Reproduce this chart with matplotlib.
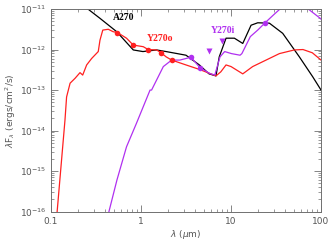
import matplotlib
matplotlib.use("Agg")
import matplotlib.pyplot as plt
import matplotlib.ticker as mticker
import numpy as np

# A270 model SED (black)
a270_lam = [0.257, 0.35, 0.537, 0.82, 1.05, 1.49, 1.9, 3.16, 4.45, 5.7, 6.8,
            7.4, 8.8, 10.9, 13.5, 16.7, 19.8, 26.7, 37.5, 57.4, 80.7, 100]
a270_flux = [-11.0, -11.23, -11.56, -12.01, -12.05, -12.01, -12.05, -12.14,
             -12.38, -12.6, -12.65, -12.18, -11.72, -11.72, -11.85, -11.4,
             -11.34, -11.35, -11.6, -12.18, -12.67, -13.0]

# Y270o model SED (red)
y270o_lam = [0.117, 0.143, 0.149, 0.163, 0.185, 0.21, 0.225, 0.249, 0.283,
             0.335, 0.35, 0.376, 0.433, 0.49, 0.546, 0.69, 0.82, 1.06, 1.2,
             1.49, 1.67, 1.9, 2.19, 3.16, 4.45, 6.8, 7.7, 8.8, 10.0, 13.5,
             17.4, 24.5, 34.5, 50.5, 63, 80, 100]
y270o_flux = [-16.0, -13.74, -13.17, -12.83, -12.71, -12.57, -12.63, -12.38,
              -12.22, -12.05, -11.77, -11.52, -11.5, -11.56, -11.58, -11.72,
              -11.89, -11.93, -12.0, -12.01, -12.08, -12.18, -12.26, -12.38,
              -12.49, -12.65, -12.55, -12.38, -12.42, -12.6, -12.42, -12.26,
              -12.1, -12.01, -12.0, -12.08, -12.26]

# Y270i model SED (purple)
y270i_lam = [0.44, 0.54, 0.69, 0.89, 1.26, 1.31, 1.77, 2.19, 2.7, 3.59, 4.53,
             5.8, 6.6, 7.55, 8.5, 10.1, 12.6, 13.2, 16.4, 19.8, 23.9, 29.5,
             35, 50, 72, 98, 100]
y270i_flux = [-16.0, -15.22, -14.4, -13.82, -13.0, -13.0, -12.42, -12.26,
              -12.26, -12.19, -12.45, -12.59, -12.63, -12.18, -12.05, -12.1,
              -12.14, -12.1, -11.68, -11.52, -11.34, -11.15, -11.0, -10.7,
              -11.0, -11.23, -11.25]

# observed photometry
obs_o_lam = [0.546, 0.82, 1.2, 1.67, 2.19]
obs_o_flux = [-11.58, -11.89, -12.0, -12.08, -12.26]
obs_i_lam = [3.59, 4.53, 23.9]
obs_i_flux = [-12.19, -12.45, -11.34]
lim_i_lam = [5.7, 7.95]
lim_i_flux = [-12.03, -11.78]

x_ticks = [0.1, 1, 10, 100]
y_ticks = [1e-16, 1e-15, 1e-14, 1e-13, 1e-12, 1e-11]

RED = "#ff2020"
PURPLE = "#b030f0"
GREY = "#707070"

fig = plt.figure(figsize=(3.32, 2.4), dpi=100)
ax = fig.add_axes([0.1536, 0.118, 0.8134, 0.8445])

ax.plot(a270_lam, 10 ** np.array(a270_flux), color="black", lw=0.9)
ax.plot(y270o_lam, 10 ** np.array(y270o_flux), color=RED, lw=0.9)
ax.plot(y270i_lam, 10 ** np.array(y270i_flux), color=PURPLE, lw=0.9)

ax.plot(obs_o_lam, 10 ** np.array(obs_o_flux), "o", color=RED, ms=4, mec="none")
ax.plot(obs_i_lam, 10 ** np.array(obs_i_flux), "o", color=PURPLE, ms=4, mec="none")
ax.plot(lim_i_lam, 10 ** np.array(lim_i_flux), "v", color=PURPLE, ms=5, mec="none")

ax.set_xscale("log")
ax.set_yscale("log")
ax.set_xlim(0.1, 100)
ax.set_ylim(1e-16, 1e-11)

ax.xaxis.set_major_locator(mticker.FixedLocator(x_ticks))
ax.xaxis.set_major_formatter(mticker.FixedFormatter(["0.1", "1", "10", "100"]))
ax.yaxis.set_major_locator(mticker.FixedLocator(y_ticks))
ax.yaxis.set_major_formatter(mticker.FuncFormatter(
    lambda v, p: r"10$^{%d}$" % round(np.log10(v))))
ax.xaxis.set_minor_locator(mticker.LogLocator(subs=np.arange(2, 10)))
ax.yaxis.set_minor_locator(mticker.LogLocator(subs=np.arange(2, 10), numticks=20))
ax.yaxis.set_minor_formatter(mticker.NullFormatter())
ax.xaxis.set_minor_formatter(mticker.NullFormatter())
ax.tick_params(which="both", direction="in", top=True, right=True,
               colors=GREY, labelsize=6.5, labelcolor="#555555")
ax.tick_params(which="major", length=5, width=0.6)
ax.tick_params(which="minor", length=2.5, width=0.5)
for s in ax.spines.values():
    s.set_color(GREY)
    s.set_linewidth(0.7)

ax.set_xlabel(r"$\lambda$ ($\mu$m)", fontsize=6.5, color="#555555", labelpad=2)
ax.set_ylabel(r"$\lambda$F$_\lambda$ (ergs/cm$^2$/s)", fontsize=6.5,
              color="#555555", labelpad=1)

tfont = dict(family="Liberation Serif", weight="bold", fontsize=7, ha="center", va="center")
ax.text(0.647, 10 ** -11.22, "A270", color="black", **tfont)
ax.text(1.63, 10 ** -11.74, "Y270o", color=RED, **tfont)
ax.text(8.15, 10 ** -11.52, "Y270i", color=PURPLE, **tfont)

fig.savefig("out.png", dpi=100)
